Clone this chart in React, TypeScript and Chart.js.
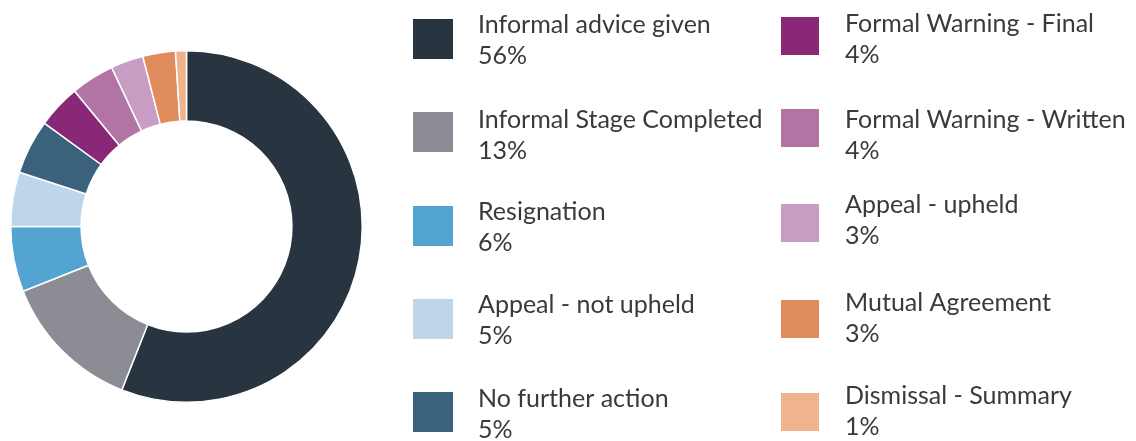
import React, { useEffect, useRef } from "react";
import { Chart, registerables } from "chart.js";

Chart.register(...registerables);

const categories = [
  "Informal advice given",
  "Informal Stage Completed",
  "Resignation",
  "Appeal - not upheld",
  "No further action",
  "Formal Warning - Final",
  "Formal Warning - Written",
  "Appeal - upheld",
  "Mutual Agreement",
  "Dismissal - Summary",
];

const percentages = [56, 13, 6, 5, 5, 4, 4, 3, 3, 1];

const sliceColors = [
  "#283541",
  "#8b8c94",
  "#53a4d0",
  "#bdd6ea",
  "#3b627c",
  "#8a2878",
  "#b174a5",
  "#c99cc4",
  "#e08c5c",
  "#efb48d",
];

// legend layout (positions only)
const colSwatchX = [413, 781];
const colSwatchSize = [40, 38];
const colTextX = [478, 845];
const colSwatchTop = [
  [19, 112, 206, 299, 392],
  [17, 109, 204, 300, 393],
];
const colBaseline = [
  [33, 128, 220, 313, 407],
  [32, 128, 213, 311, 404],
];

const FONT = "25px Lato";

const legendPlugin = {
  id: "sideLegend",
  afterDraw(chart: any) {
    const ctx = chart.ctx;
    ctx.save();
    const labels = chart.data.labels as string[];
    const data = chart.data.datasets[0].data as number[];
    const colors = chart.data.datasets[0].backgroundColor as string[];
    labels.forEach((label, i) => {
      const col = i < 5 ? 0 : 1;
      const row = i % 5;
      const size = colSwatchSize[col];
      ctx.fillStyle = colors[i];
      ctx.fillRect(colSwatchX[col], colSwatchTop[col][row], size, size);
      ctx.fillStyle = "#3a3a3a";
      ctx.font = FONT;
      ctx.textBaseline = "alphabetic";
      ctx.textAlign = "left";
      const base = colBaseline[col][row];
      ctx.fillText(label, colTextX[col], base);
      ctx.fillText(`${data[i]}%`, colTextX[col], base + 31);
    });
    ctx.restore();
  },
};

export default function App() {
  const ref = useRef<HTMLCanvasElement | null>(null);
  useEffect(() => {
    if (!ref.current) return;
    const chart = new Chart(ref.current, {
      type: "doughnut",
      data: {
        labels: categories,
        datasets: [
          {
            data: percentages,
            backgroundColor: sliceColors,
            borderColor: "#ffffff",
            borderWidth: 1.5,
          },
        ],
      },
      options: {
        responsive: false,
        animation: false,
        cutout: "60%",
        layout: {
          padding: { left: 10, top: 50, right: 773, bottom: 38 },
        },
        plugins: {
          legend: { display: false },
          tooltip: { enabled: false },
        },
      },
      plugins: [legendPlugin],
    });
    return () => chart.destroy();
  }, []);
  return (
    <div style={{ position: "fixed", left: 0, top: 0, width: 1136, height: 441, background: "#ffffff" }}>
      <canvas ref={ref} width={1136} height={441} style={{ width: 1136, height: 441 }} />
    </div>
  );
}
